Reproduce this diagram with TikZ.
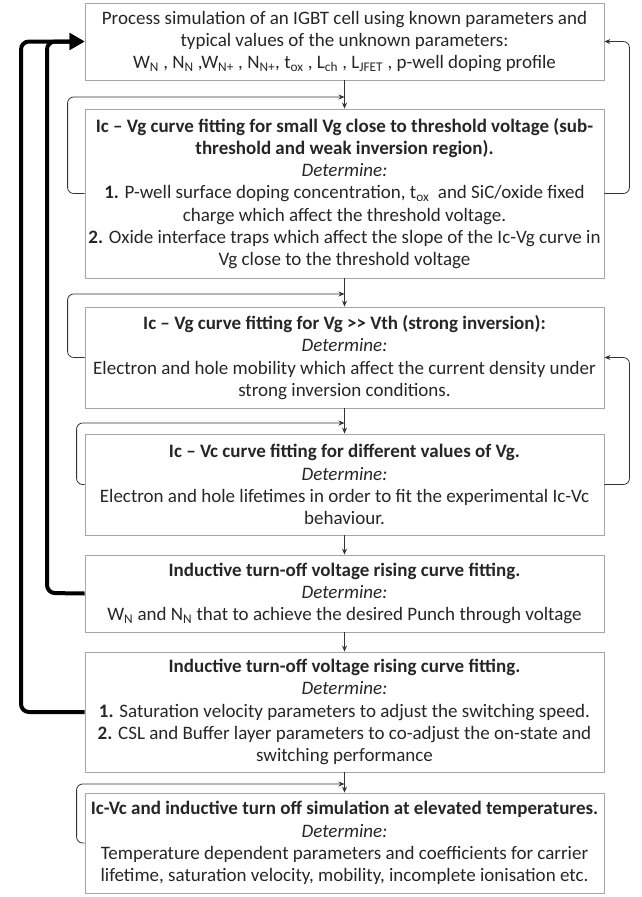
\documentclass[tikz,border=0pt]{standalone}
\usepackage{fontspec}
\setmainfont{Carlito}
\usetikzlibrary{arrows.meta, calc}

\begin{document}
\begin{tikzpicture}[
  x=1pt, y=-1pt,
  every node/.style={font=\fontsize{19}{22.2}\selectfont, text=black!85},
  stage/.style={draw=black!35, line width=0.8pt, minimum width=519pt,
                align=center, inner sep=3pt},
  arr/.style={-{Stealth[length=6pt, width=5pt]}, line width=0.8pt, black!80},
  fbk/.style={arr, rounded corners=6pt},
  warr/.style={-{Triangle[length=15pt, width=16pt]}, line width=4pt,
               rounded corners=8pt},
]
  \useasboundingbox (0,0) rectangle (641,897);

  % ── Fitting stages ───────────────────────────────
  \node[stage, minimum height=77pt]  (S1) at (344.5, 41.5)
    {Process simulation of an IGBT cell using known parameters and\\
     typical values of the unknown parameters:\\
     W\textsubscript{N} , N\textsubscript{N} ,W\textsubscript{N+} , N\textsubscript{N+},
     t\textsubscript{ox} , L\textsubscript{ch} , L\textsubscript{JFET} , p-well doping profile};
  \node[stage, minimum height=169pt] (S2) at (344.5, 193.5)
    {\textbf{Ic -- Vg curve fitting for small Vg close to threshold voltage (sub-}\\
     \textbf{threshold and weak inversion region).}\\
     \textit{Determine:}\\
     \textbf{1.} P-well surface doping concentration, t\textsubscript{ox}\ \ and SiC/oxide fixed\\
     charge which affect the threshold voltage.\\
     \textbf{2.} Oxide interface traps which affect the slope of the Ic-Vg curve in\\
     Vg close to the threshold voltage};
  \node[stage, minimum height=101pt] (S3) at (344.5, 357.5)
    {\textbf{Ic -- Vg curve fitting for Vg >{}> Vth (strong inversion):}\\
     \textit{Determine:}\\
     Electron and hole mobility which affect the current density under\\
     strong inversion conditions.};
  \node[stage, minimum height=101pt] (S4) at (344.5, 484.5)
    {\textbf{Ic -- Vc curve fitting for different values of Vg.}\\
     \textit{Determine:}\\
     Electron and hole lifetimes in order to fit the experimental Ic-Vc\\
     behaviour.};
  \node[stage, minimum height=77pt]  (S5) at (344.5, 593.5)
    {\textbf{Inductive turn-off voltage rising curve fitting.}\\
     \textit{Determine:}\\
     W\textsubscript{N} and N\textsubscript{N} that to achieve the desired Punch through voltage};
  \node[stage, minimum height=120pt] (S6) at (344.5, 712)
    {\textbf{Inductive turn-off voltage rising curve fitting.}\\
     \textit{Determine:}\\
     \textbf{1.} Saturation velocity parameters to adjust the switching speed.\\
     \textbf{2.} CSL and Buffer layer parameters to co-adjust the on-state and\\
     switching performance};
  \node[stage, minimum height=100pt] (S7) at (344.5, 843)
    {\textbf{Ic-Vc and inductive turn off simulation at elevated temperatures.}\\
     \textit{Determine:}\\
     Temperature dependent parameters and coefficients for carrier\\
     lifetime, saturation velocity, mobility, incomplete ionisation etc.};

  % ── Forward steps ────────────────────────────────
  \foreach \a/\b in {S1/S2, S2/S3, S3/S4, S4/S5, S5/S6, S6/S7}
    \draw[arr] (\a.south) -- (\b.north);

  % ── Re-entry points on the forward steps ─────────
  \coordinate (j12) at (344.5, 97);
  \coordinate (j23) at (344.5, 294);
  \coordinate (j34) at (344.5, 423);
  \coordinate (j67) at (344.5, 784);

  % ── Local repeat loops (left) ────────────────────
  \draw[fbk] (S2.west) -- ++(-17,0) |- (j12);
  \draw[fbk] (S3.west) -- ++(-17,0) |- (j23);
  \draw[fbk] (S4.west) -- ++(-8,0)  |- (j34);
  \draw[fbk] (S7.west) -- ++(-8,0)  |- (j67);

  % ── Back to earlier stages (right) ───────────────
  \draw[fbk] (S2.east) -- ++(25,0) |- (S1.east);
  \draw[fbk] (S4.east) -- ++(25,0) |- (S3.east);

  % ── Restart from process simulation ──────────────
  \draw[warr] (S6.west) -- (21,712) |- (S1.west);
  \draw[warr] (S5.west) -- (47,593) |- (S1.west);

\end{tikzpicture}
\end{document}
